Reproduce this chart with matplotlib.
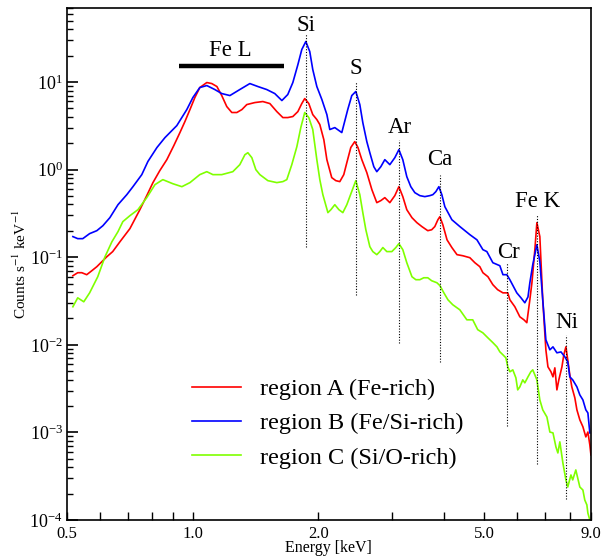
import matplotlib
matplotlib.use("Agg")
import matplotlib.pyplot as plt
from matplotlib.ticker import FixedLocator, NullFormatter, LogLocator

plt.rcParams['font.family'] = 'serif'
plt.rcParams['font.serif'] = ['Liberation Serif', 'DejaVu Serif']
plt.rcParams['mathtext.fontset'] = 'stix'

# region A (Fe-rich)
energy_a = [0.517, 0.531, 0.543, 0.558, 0.574, 0.590, 0.623, 0.644, 0.670, 0.708,
            0.748, 0.777, 0.804, 0.835, 0.868, 0.902, 0.933, 0.959, 0.986, 1.013,
            1.041, 1.082, 1.112, 1.144, 1.175, 1.208, 1.242, 1.277, 1.313, 1.349,
            1.410, 1.474, 1.532, 1.592, 1.646, 1.691, 1.739, 1.788, 1.827, 1.857,
            1.899, 1.941, 1.985, 2.018, 2.063, 2.098, 2.155, 2.204, 2.253, 2.303,
            2.342, 2.394, 2.447, 2.490, 2.544, 2.615, 2.689, 2.763, 2.825, 2.888,
            2.969, 3.052, 3.121, 3.189, 3.260, 3.354, 3.447, 3.542, 3.660, 3.740,
            3.805, 3.870, 3.912, 3.977, 4.070, 4.180, 4.300, 4.440, 4.616, 4.745,
            4.877, 4.960, 5.100, 5.240, 5.380, 5.540, 5.690, 5.755, 5.916, 6.081,
            6.220, 6.320, 6.426, 6.500, 6.606, 6.680, 6.790, 6.900, 7.020, 7.100,
            7.220, 7.300, 7.376, 7.460, 7.540, 7.670, 7.750, 7.840, 7.920, 8.010,
            8.100, 8.236, 8.330, 8.466, 8.610, 8.750, 8.850, 8.946, 9.000]
counts_a = [0.0615, 0.0666, 0.0666, 0.0632, 0.0702, 0.078, 0.101, 0.116, 0.150, 0.212,
            0.349, 0.505, 0.711, 0.975, 1.30, 1.88, 2.65, 3.54, 4.85, 6.65,
            8.65, 9.87, 9.61, 8.89, 7.01, 5.25, 4.49, 4.49, 4.85, 5.53,
            5.83, 5.99, 5.68, 4.60, 3.93, 3.93, 4.04, 4.60, 5.68, 6.48,
            5.68, 4.25, 3.73, 3.27, 2.20, 1.30, 0.811, 0.749, 0.730, 0.877,
            1.20, 1.79, 2.09, 1.79, 1.30, 0.925, 0.591, 0.420, 0.443, 0.479,
            0.420, 0.505, 0.639, 0.492, 0.349, 0.283, 0.248, 0.224, 0.201, 0.206,
            0.224, 0.268, 0.290, 0.235, 0.158, 0.129, 0.107, 0.104, 0.0988, 0.0866,
            0.078, 0.0666, 0.0599, 0.0486, 0.0426, 0.0392, 0.0392, 0.0327, 0.0272, 0.0209,
            0.0193, 0.0179, 0.0327, 0.0511, 0.122, 0.248, 0.172, 0.0327, 0.00877, 0.00561,
            0.00492, 0.00431, 0.00546, 0.00306, 0.00398, 0.00561, 0.00769, 0.00948, 0.00674, 0.00454,
            0.00331, 0.00248, 0.00181, 0.00139, 0.00116, 0.000889, 0.00101, 0.000721, 0.000554]

# region B (Fe/Si-rich)
energy_b = [0.517, 0.531, 0.546, 0.567, 0.590, 0.610, 0.634, 0.663, 0.696, 0.720,
            0.756, 0.782, 0.822, 0.859, 0.917, 0.969, 1.002, 1.041, 1.082, 1.131,
            1.175, 1.229, 1.298, 1.372, 1.434, 1.506, 1.574, 1.637, 1.691, 1.739,
            1.788, 1.827, 1.868, 1.909, 1.941, 1.985, 2.041, 2.098, 2.132, 2.192,
            2.278, 2.354, 2.407, 2.461, 2.516, 2.558, 2.615, 2.659, 2.718, 2.763,
            2.825, 2.888, 2.969, 3.052, 3.121, 3.189, 3.260, 3.333, 3.408, 3.503,
            3.601, 3.702, 3.764, 3.827, 3.891, 3.955, 4.021, 4.180, 4.368, 4.616,
            4.800, 4.960, 5.070, 5.240, 5.446, 5.540, 5.660, 5.755, 5.980, 6.120,
            6.251, 6.360, 6.426, 6.530, 6.680, 6.790, 6.900, 7.020, 7.176, 7.300,
            7.460, 7.630, 7.794, 7.920, 8.010, 8.140, 8.330, 8.466, 8.610, 8.750,
            8.850, 8.946]
counts_b = [0.172, 0.163, 0.163, 0.186, 0.201, 0.229, 0.283, 0.398, 0.518, 0.639,
            0.877, 1.24, 1.79, 2.32, 3.18, 4.85, 6.65, 8.65, 9.12, 8.21,
            7.39, 7.01, 8.21, 9.61, 8.89, 8.21, 7.39, 6.15, 7.20, 9.87,
            15.8, 23.5, 29.0, 22.3, 13.9, 8.89, 6.31, 4.25, 2.87, 3.02,
            2.65, 4.85, 7.01, 7.80, 5.53, 3.44, 2.09, 1.56, 1.08, 0.948,
            1.08, 1.30, 1.14, 1.37, 1.69, 1.30, 0.832, 0.639, 0.546, 0.505,
            0.492, 0.505, 0.518, 0.561, 0.639, 0.518, 0.378, 0.268, 0.224, 0.181,
            0.158, 0.122, 0.116, 0.0866, 0.080, 0.0632, 0.0632, 0.0554, 0.0392, 0.0344,
            0.0302, 0.0352, 0.0511, 0.0822, 0.139, 0.0889, 0.0327, 0.0114, 0.00877, 0.00948,
            0.00811, 0.00830, 0.00729, 0.00640, 0.00431, 0.00398, 0.00331, 0.00268, 0.00235, 0.00181,
            0.00167, 0.000987]

# region C (Si/O-rich)
energy_c = [0.517, 0.531, 0.549, 0.567, 0.593, 0.617, 0.641, 0.663, 0.681, 0.708,
            0.740, 0.777, 0.813, 0.849, 0.897, 0.943, 0.986, 1.041, 1.082, 1.119,
            1.175, 1.249, 1.298, 1.335, 1.357, 1.387, 1.418, 1.450, 1.515, 1.592,
            1.646, 1.682, 1.729, 1.778, 1.817, 1.857, 1.899, 1.941, 1.985, 2.018,
            2.052, 2.110, 2.145, 2.192, 2.242, 2.291, 2.342, 2.381, 2.461, 2.516,
            2.558, 2.601, 2.659, 2.703, 2.763, 2.809, 2.857, 2.920, 3.002, 3.069,
            3.121, 3.189, 3.260, 3.354, 3.427, 3.503, 3.580, 3.660, 3.740, 3.850,
            3.912, 4.000, 4.090, 4.200, 4.368, 4.540, 4.690, 4.820, 4.960, 5.100,
            5.240, 5.360, 5.446, 5.540, 5.630, 5.690, 5.755, 5.850, 5.950, 6.010,
            6.081, 6.180, 6.251, 6.360, 6.460, 6.530, 6.606, 6.680, 6.790, 6.900,
            7.060, 7.176, 7.300, 7.420, 7.500, 7.582, 7.710, 7.840, 7.920, 8.060,
            8.140, 8.280, 8.466, 8.610, 8.700, 8.800, 8.850, 8.946]
counts_c = [0.0272, 0.0344, 0.0310, 0.0392, 0.0599, 0.101, 0.150, 0.196, 0.255, 0.298,
            0.349, 0.479, 0.674, 0.769, 0.691, 0.639, 0.711, 0.877, 0.948, 0.877,
            0.877, 0.948, 1.14, 1.48, 1.56, 1.37, 1.00, 0.877, 0.749, 0.711,
            0.730, 0.769, 1.14, 1.83, 3.02, 4.49, 3.93, 2.87, 1.30, 0.769,
            0.518, 0.323, 0.349, 0.398, 0.349, 0.323, 0.398, 0.492, 0.749, 0.518,
            0.323, 0.206, 0.132, 0.116, 0.107, 0.116, 0.129, 0.116, 0.116, 0.129,
            0.143, 0.122, 0.0866, 0.0599, 0.0554, 0.0554, 0.0583, 0.0583, 0.0539, 0.0511,
            0.0475, 0.0392, 0.0327, 0.0287, 0.0251, 0.0193, 0.0193, 0.0149, 0.0137, 0.0120,
            0.0106, 0.00948, 0.00832, 0.00769, 0.00711, 0.00561, 0.00492, 0.00518, 0.00420, 0.00306,
            0.00331, 0.00398, 0.00368, 0.00431, 0.00492, 0.00518, 0.00454, 0.00398, 0.00235, 0.00181,
            0.00150, 0.00101, 0.000988, 0.000683, 0.000583, 0.000780, 0.000449, 0.000287, 0.000238, 0.000327,
            0.000287, 0.000373, 0.000238, 0.000220, 0.000169, 0.000149, 0.000120, 0.000100]

# line identifications: name, energy, dotted line top/bottom, label position
line_names = ['Si', 'S', 'Ar', 'Ca', 'Cr', 'Fe K', 'Ni']
line_energy = [1.865, 2.46, 3.12, 3.91, 5.66, 6.68, 7.84]
line_top = [34.9, 10.1, 2.20, 0.877, 0.0866, 0.310, 0.0130]
line_bottom = [0.132, 0.0373, 0.0105, 0.0064, 0.00119, 0.00044, 0.000175]
label_y = [37.8, 12.2, 2.63, 1.12, 0.0987, 0.378, 0.0156]
label_x = [1.865, 2.46, 3.14, 3.90, 5.72, 6.72, 7.88]

fig = plt.figure(figsize=(6.13, 5.57), dpi=100)
ax = fig.add_axes([0.109, 0.0664, 0.855, 0.9192])

ax.plot(energy_a, counts_a, color='#ff0000', lw=1.2, label='region A (Fe-rich)')
ax.plot(energy_b, counts_b, color='#0000ff', lw=1.2, label='region B (Fe/Si-rich)')
ax.plot(energy_c, counts_c, color='#7fff00', lw=1.2, label='region C (Si/O-rich)')

for name, e, top, bot, lx, ly in zip(line_names, line_energy, line_top, line_bottom, label_x, label_y):
    ax.plot([e, e], [bot, top], color='black', lw=0.8, ls=(0, (1, 1.5)))
    ax.text(lx, ly, name, ha='center', va='baseline', fontsize=16.5)

# Fe L band
ax.plot([0.927, 1.655], [15.4, 15.4], color='black', lw=3.2, solid_capstyle='butt')
ax.text(1.235, 19.6, 'Fe L', ha='center', va='baseline', fontsize=16.5)

ax.set_xscale('log')
ax.set_yscale('log')
ax.set_xlim(0.5, 9.0)
ax.set_ylim(1e-4, 70)

ax.xaxis.set_major_locator(FixedLocator([0.5, 1.0, 2.0, 5.0, 9.0]))
ax.xaxis.set_minor_locator(FixedLocator([0.6, 0.7, 0.8, 0.9, 3.0, 4.0, 6.0, 7.0, 8.0]))
ax.set_xticklabels(['0.5', '1.0', '2.0', '5.0', '9.0'])
ax.xaxis.set_minor_formatter(NullFormatter())
ax.yaxis.set_major_locator(LogLocator(base=10, numticks=10))
ax.yaxis.set_minor_locator(LogLocator(base=10, subs=range(2, 10), numticks=10))
ax.yaxis.set_minor_formatter(NullFormatter())

ax.tick_params(axis='x', which='both', direction='in', length=6, width=1, labelsize=12, pad=4)
ax.tick_params(axis='y', which='major', direction='in', length=8, width=1.2, labelsize=13, pad=3)
ax.tick_params(axis='y', which='minor', direction='in', length=4, width=1)
for sp in ax.spines.values():
    sp.set_linewidth(1.2)

ax.set_xlabel('Energy [keV]', fontsize=11.5, labelpad=-1)
ax.set_ylabel('Counts s$^{-1}$ keV$^{-1}$', fontsize=11, labelpad=0)

ax.legend(loc='upper left', bbox_to_anchor=(0.239, 0.277), frameon=False, fontsize=17.5,
          handlelength=2.0, handletextpad=0.78, labelspacing=0.5, borderpad=0, borderaxespad=0)

fig.savefig('out.png', dpi=100)
